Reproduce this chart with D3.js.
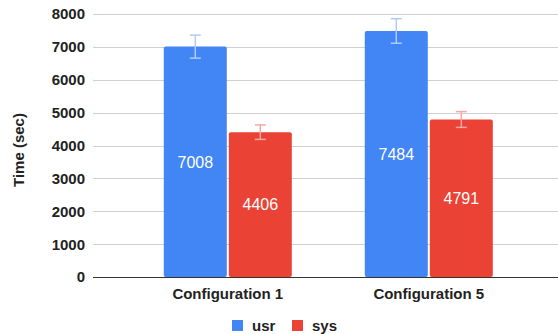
<!DOCTYPE html>
<html><head><meta charset="utf-8">
<script src="https://cdn.jsdelivr.net/npm/d3@7"></script>
<style>body{margin:0;background:#fff}svg{display:block}</style>
</head><body>
<svg id="c" width="558" height="334"></svg>
<script>
const categories = ["Configuration 1", "Configuration 5"];
const seriesNames = ["usr", "sys"];
const usrValues = [7008, 7484];
const sysValues = [4406, 4791];
const usrErrors = [350, 374];
const sysErrors = [220, 240];
const yTicks = [0, 1000, 2000, 3000, 4000, 5000, 6000, 7000, 8000];
const colors = {usr: "#4285F4", sys: "#EA4335"};
const errColors = {usr: "#b0cbfa", sys: "#f4a7a1"};

const values = {usr: usrValues, sys: sysValues};
const errors = {usr: usrErrors, sys: sysErrors};
const FONT = "'Liberation Sans', Arial, sans-serif";

const svg = d3.select("#c");
const y = d3.scaleLinear().domain([0, 8000]).range([277, 14]);
const x0 = d3.scaleBand().domain(categories).range([127.3, 529.3]).paddingInner(0.363).paddingOuter(0.1815);
const x1 = d3.scaleBand().domain(seriesNames).range([0, x0.bandwidth()]).paddingInner(0.031);

// gridlines
svg.append("g").selectAll("line").data(yTicks.filter(t => t > 0)).join("line")
  .attr("x1", 93).attr("x2", 558)
  .attr("y1", d => Math.round(y(d)) + 0.5).attr("y2", d => Math.round(y(d)) + 0.5)
  .attr("stroke", "#d0d0d0").attr("stroke-width", 1);

// y tick labels
svg.append("g").selectAll("text").data(yTicks).join("text")
  .attr("x", 85).attr("y", d => y(d)).attr("dy", "0.36em")
  .attr("text-anchor", "end").attr("font-family", FONT).attr("font-weight", "bold")
  .attr("font-size", 15).attr("fill", "#222").text(d => d);

// axis title
svg.append("text").attr("transform", "translate(24,150) rotate(-90)")
  .attr("text-anchor", "middle").attr("font-family", FONT).attr("font-weight", "bold")
  .attr("font-size", 15).attr("fill", "#222").text("Time (sec)");

// bars
const groups = svg.append("g").selectAll("g").data(categories).join("g")
  .attr("transform", d => `translate(${x0(d)},0)`);
const items = groups.selectAll("g").data((c, i) => seriesNames.map(s => ({s, v: values[s][i], e: errors[s][i]}))).join("g");
items.append("rect")
  .attr("x", d => x1(d.s)).attr("width", x1.bandwidth())
  .attr("y", d => y(d.v)).attr("height", d => y(0) - y(d.v))
  .attr("rx", 2).attr("fill", d => colors[d.s]);
items.append("text")
  .attr("x", d => x1(d.s) + x1.bandwidth() / 2).attr("y", d => (y(d.v) + y(0)) / 2).attr("dy", "0.36em")
  .attr("text-anchor", "middle").attr("font-family", FONT).attr("font-size", 16)
  .attr("fill", "#fff").text(d => d.v);
// error bars
items.append("line")
  .attr("x1", d => x1(d.s) + x1.bandwidth() / 2).attr("x2", d => x1(d.s) + x1.bandwidth() / 2)
  .attr("y1", d => y(d.v + d.e)).attr("y2", d => y(d.v - d.e))
  .attr("stroke", d => errColors[d.s]).attr("stroke-width", 1.5);
items.selectAll("line.cap").data(d => [{...d, k: d.v + d.e}, {...d, k: d.v - d.e}]).join("line")
  .attr("class", "cap")
  .attr("x1", d => x1(d.s) + x1.bandwidth() / 2 - 5.5).attr("x2", d => x1(d.s) + x1.bandwidth() / 2 + 5.5)
  .attr("y1", d => y(d.k)).attr("y2", d => y(d.k))
  .attr("stroke", d => errColors[d.s]).attr("stroke-width", 1.5);

// baseline
svg.append("line").attr("x1", 93).attr("x2", 558).attr("y1", y(0) + 0.5).attr("y2", y(0) + 0.5)
  .attr("stroke", "#333").attr("stroke-width", 1);

// x labels
svg.append("g").selectAll("text").data(categories).join("text")
  .attr("x", d => x0(d) + x0.bandwidth() / 2).attr("y", 299)
  .attr("text-anchor", "middle").attr("font-family", FONT).attr("font-weight", "bold")
  .attr("font-size", 15).attr("fill", "#222").text(d => d);

// legend
const legX = {usr: 232, sys: 292};
const leg = svg.append("g").selectAll("g").data(seriesNames).join("g")
  .attr("transform", d => `translate(${legX[d]},320)`);
leg.append("rect").attr("width", 11).attr("height", 11).attr("fill", d => colors[d]);
leg.append("text").attr("x", 20).attr("y", 5.5).attr("dy", "0.36em")
  .attr("font-family", FONT).attr("font-weight", "bold").attr("font-size", 15)
  .attr("fill", "#222").text(d => d);
</script>
</body></html>
